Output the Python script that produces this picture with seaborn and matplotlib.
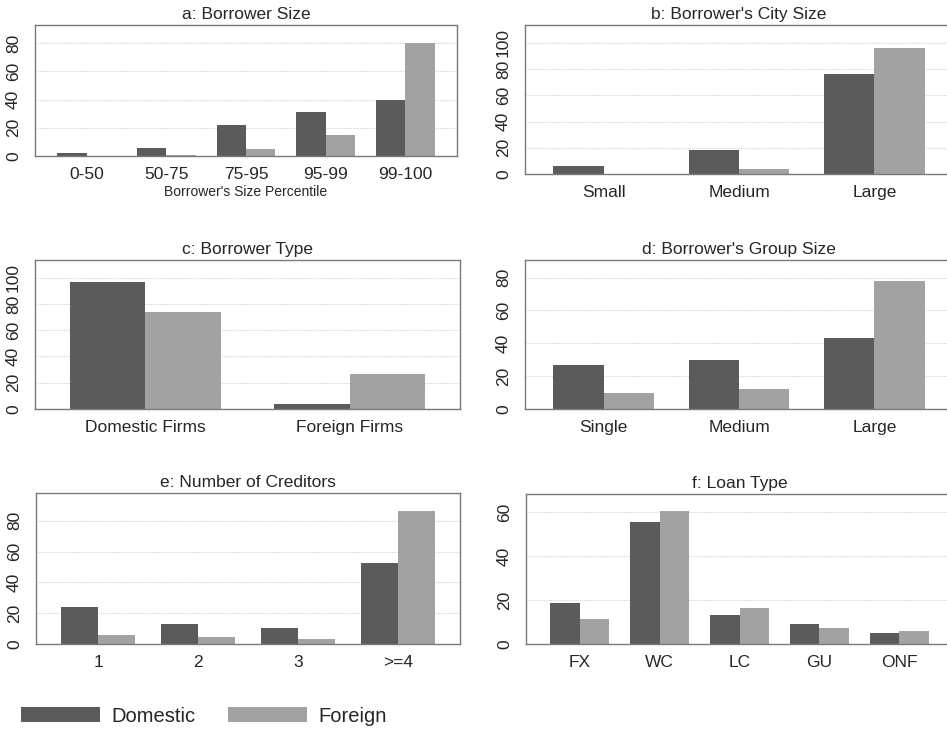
"""
Borrower / loan characteristics by lender nationality (six bar panels).
"""

import matplotlib
matplotlib.use("Agg")
import matplotlib.pyplot as plt
import pandas as pd
import seaborn as sns

# ---- data (percent of loans) ----
size_cats = ["0-50", "50-75", "75-95", "95-99", "99-100"]
size_dom = [2, 6, 22, 31, 40]
size_for = [0.3, 1, 5, 15, 80]

city_cats = ["Small", "Medium", "Large"]
city_dom = [6, 18, 76]
city_for = [0.2, 4, 96]

type_cats = ["Domestic Firms", "Foreign Firms"]
type_dom = [96.5, 3.5]
type_for = [74, 26.5]

group_cats = ["Single", "Medium", "Large"]
group_dom = [27, 30, 43.5]
group_for = [9.5, 12, 78]

cred_cats = ["1", "2", "3", ">=4"]
cred_dom = [24, 13, 10.5, 52.5]
cred_for = [6, 4.5, 3.5, 86]

loan_cats = ["FX", "WC", "LC", "GU", "ONF"]
loan_dom = [18.5, 55.5, 13, 9, 5]
loan_for = [11.5, 60.5, 16.5, 7.5, 6]

groups = ["Domestic", "Foreign"]
colors = {"Domestic": "#5b5b5b", "Foreign": "#a2a2a2"}

sns.set_theme(style="white")
plt.rcParams["font.family"] = ["Liberation Sans", "DejaVu Sans"]

W, H = 947, 736
fig = plt.figure(figsize=(W / 100, H / 100), dpi=100)


def make_ax(left, top, right, bottom):
    # pixel box -> figure fraction
    return fig.add_axes([left / W, 1 - bottom / H, (right - left) / W, (bottom - top) / H])


def panel(ax, title, cats, dom, fore, ymax, yticks, margin, xlabel=None, legend=False):
    df = pd.DataFrame({
        "cat": cats * 2,
        "value": list(dom) + list(fore),
        "lender": ["Domestic"] * len(cats) + ["Foreign"] * len(cats),
    })
    sns.barplot(data=df, x="cat", y="value", hue="lender", order=cats,
                hue_order=groups, palette=colors, width=0.74, saturation=1,
                edgecolor="none", linewidth=0, ax=ax, legend=legend)
    ax.set_xlim(-margin, len(cats) - 1 + margin)
    ax.set_ylim(0, ymax)
    ax.set_yticks(yticks)
    ax.set_yticklabels([str(t) for t in yticks], rotation=90, va="center")
    ax.yaxis.grid(True, color="#d4d4d4", linewidth=0.8, linestyle=(0, (1, 1)))
    ax.set_axisbelow(True)
    ax.tick_params(axis="y", length=4, width=0.8, color="#777777", pad=6, labelsize=12.5)
    ax.tick_params(axis="x", length=0, pad=8, labelsize=12.5)
    for sp in ax.spines.values():
        sp.set_color("#7a7a7a")
        sp.set_linewidth(1.0)
    ax.set_title(title, fontsize=12.5, pad=4)
    ax.set_ylabel("")
    if xlabel:
        ax.set_xlabel(xlabel, fontsize=10, labelpad=2)
    else:
        ax.set_xlabel("")


ax_a = make_ax(35, 25, 457, 156)
ax_b = make_ax(525, 25, 953, 174)
ax_c = make_ax(35, 260, 460, 409)
ax_d = make_ax(525, 260, 953, 409)
ax_e = make_ax(36, 493, 460, 644)
ax_f = make_ax(526, 494, 953, 644)

panel(ax_a, "a: Borrower Size", size_cats, size_dom, size_for, 93, [0, 20, 40, 60, 80], 0.65,
      xlabel="Borrower's Size Percentile", legend=True)
panel(ax_b, "b: Borrower's City Size", city_cats, city_dom, city_for, 113.7,
      [0, 20, 40, 60, 80, 100], 0.58)
panel(ax_c, "c: Borrower Type", type_cats, type_dom, type_for, 113.4,
      [0, 20, 40, 60, 80, 100], 0.54)
panel(ax_d, "d: Borrower's Group Size", group_cats, group_dom, group_for, 90.7,
      [0, 20, 40, 60, 80], 0.58)
panel(ax_e, "e: Number of Creditors", cred_cats, cred_dom, cred_for, 98,
      [0, 20, 40, 60, 80], 0.62)
panel(ax_f, "f: Loan Type", loan_cats, loan_dom, loan_for, 68.4, [0, 20, 40, 60], 0.67)

# shared legend at the bottom
handles, labels = ax_a.get_legend_handles_labels()
ax_a.get_legend().remove()
fig.legend(handles, labels, loc="center left", bbox_to_anchor=(21 / W, 1 - 716 / H),
           ncol=2, frameon=False, fontsize=14.5, handlelength=3.9, handleheight=0.7,
           handletextpad=0.6, columnspacing=1.6, borderpad=0, borderaxespad=0)

fig.savefig("out.png", dpi=100)
